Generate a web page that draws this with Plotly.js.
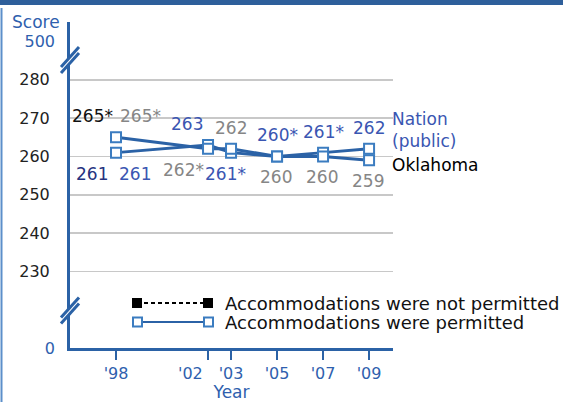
<!DOCTYPE html>
<html><head><meta charset="utf-8">
<script src="https://cdn.plot.ly/plotly-3.0.1.min.js"></script>
<style>html,body{margin:0;padding:0;background:#fff;overflow:hidden}#chart{width:563px;height:402px}</style>
</head><body><div id="chart"></div>
<script>
// ---- data ----
const years = [1998, 2002, 2003, 2005, 2007, 2009];
const yearTickText = ["'98", "'02", "'03", "'05", "'07", "'09"];
const nationScores = [261, 263, 261, 260, 261, 262];
const nationSig = [false, false, true, true, true, false];
const oklaScores = [265, 262, 262, 260, 260, 259];
const oklaSig = [true, true, false, false, false, false];
// accommodations not permitted (1998 only)
const notPermYears = [1998];
const nationNotPerm = [261];
const nationNotPermSig = [false];
const oklaNotPerm = [265];
const oklaNotPermSig = [true];
const scoreTicks = [230, 240, 250, 260, 270, 280];
const scoreTickText = ['230', '240', '250', '260', '270', '280'];
const breakTicks = [210, 290];
const breakTickText = ['0', '500'];
const seriesNames = ['Nation<br>(public)', 'Oklahoma'];
const legendLabels = ['Accommodations were not permitted', 'Accommodations were permitted'];

// ---- styles ----
const FONT = 'DejaVu Sans, Verdana, sans-serif';
const LINE = '#2b62a6';
const MARK = '#3b7cc0';
const BLUE_TXT = '#3a56b2';
const NAVY_TXT = '#26337f';
const GRAY_TXT = '#868686';
const AXIS_TXT = '#2f5fae';
const nationXShift = [19, -21, -6, 0, 0, 0];
const oklaXShift = [24, -25, 0, -1, -1, -1];
const LBL = 21;
// tick labels that sit off their tick (the '02 label is moved left in the original)
const tickLabelShift = [0, -18, 0, 0, 0, 0];
const xTickLabels = yearTickText.map((t, i) => tickLabelShift[i] === 0 ? t : '');

const traces = [
  {x: notPermYears, y: nationNotPerm, mode: 'markers', marker: {symbol: 'square', size: 9, color: '#000'}},
  {x: notPermYears, y: oklaNotPerm, mode: 'markers', marker: {symbol: 'square', size: 9, color: '#000'}},
  {x: years, y: nationScores, mode: 'lines', line: {color: LINE, width: 3}},
  {x: years, y: oklaScores, mode: 'lines', line: {color: LINE, width: 3}},
  {x: years, y: nationScores, mode: 'markers', marker: {symbol: 'square', size: 10, color: '#fff', line: {color: MARK, width: 2}}},
  {x: years, y: oklaScores, mode: 'markers', marker: {symbol: 'square', size: 10, color: '#fff', line: {color: MARK, width: 2}}},
  {x: [years[0]], y: [breakTicks[0]], yaxis: 'y2', mode: 'markers', marker: {opacity: 0}, hoverinfo: 'skip'}
];

const ann = [];
years.forEach((yr, i) => {
  const nAbove = nationScores[i] >= oklaScores[i];
  ann.push({x: yr, y: nationScores[i], text: nationScores[i] + (nationSig[i] ? '*' : ''),
    xshift: nationXShift[i], yshift: nAbove ? LBL : -LBL, showarrow: false,
    font: {family: FONT, size: 17, color: BLUE_TXT}});
  ann.push({x: yr, y: oklaScores[i], text: oklaScores[i] + (oklaSig[i] ? '*' : ''),
    xshift: oklaXShift[i], yshift: nAbove ? -LBL : LBL, showarrow: false,
    font: {family: FONT, size: 17, color: GRAY_TXT}});
  if (tickLabelShift[i] !== 0) {
    ann.push({x: yr, xref: 'x', yref: 'paper', y: 0, yanchor: 'middle', xshift: tickLabelShift[i], yshift: -25,
      text: yearTickText[i], showarrow: false, font: {family: FONT, size: 16, color: AXIS_TXT}});
  }
});
notPermYears.forEach((yr, i) => {
  const nAbove = nationNotPerm[i] >= oklaNotPerm[i];
  ann.push({x: yr, y: nationNotPerm[i], text: nationNotPerm[i] + (nationNotPermSig[i] ? '*' : ''),
    xshift: -24, yshift: nAbove ? LBL : -LBL, showarrow: false,
    font: {family: FONT, size: 17, color: NAVY_TXT}});
  ann.push({x: yr, y: oklaNotPerm[i], text: oklaNotPerm[i] + (oklaNotPermSig[i] ? '*' : ''),
    xshift: -24, yshift: nAbove ? -LBL : LBL, showarrow: false,
    font: {family: FONT, size: 17, color: '#111'}});
});
const last = years.length - 1;
ann.push({x: years[last], y: nationScores[last], text: seriesNames[0], xanchor: 'left', align: 'left',
  xshift: 21, yshift: 19, showarrow: false, font: {family: FONT, size: 17, color: BLUE_TXT}});
ann.push({x: years[last], y: oklaScores[last], text: seriesNames[1], xanchor: 'left', align: 'left',
  xshift: 21, yshift: -5, showarrow: false, font: {family: FONT, size: 17, color: '#000'}});
// y axis title
ann.push({xref: 'paper', yref: 'paper', x: 0, y: 1, xshift: -34, yshift: 0, text: 'Score', showarrow: false,
  xanchor: 'center', yanchor: 'middle', font: {family: FONT, size: 17, color: AXIS_TXT}});
// legend text
legendLabels.forEach((t, i) => {
  ann.push({xref: 'paper', yref: 'paper', x: 0, y: 0, xshift: 153, yshift: i === 0 ? 45 : 26,
    xanchor: 'left', yanchor: 'middle', text: t, showarrow: false,
    font: {family: FONT, size: 18, color: '#111'}});
});

const shapes = [];
// top band and left border
shapes.push({type: 'rect', xref: 'paper', yref: 'paper', xsizemode: 'pixel', ysizemode: 'pixel',
  xanchor: 0, yanchor: 1, x0: -72, x1: 500, y0: 17, y1: 24, fillcolor: '#2e5f9b', line: {width: 0}, layer: 'above'});
shapes.push({type: 'line', xref: 'paper', yref: 'paper', xsizemode: 'pixel', ysizemode: 'pixel',
  xanchor: 0, yanchor: 0, x0: -68.5, x1: -68.5, y0: -60, y1: 340, line: {color: '#5c8fca', width: 2}, layer: 'above'});
// axis breaks
[285.2, 219.8].forEach(v => {
  const base = {xref: 'paper', yref: 'y', xsizemode: 'pixel', ysizemode: 'pixel', xanchor: 0, yanchor: v, layer: 'above'};
  shapes.push(Object.assign({type: 'path', path: 'M-10,-14 L10,8 L10,14 L-10,-8 Z', fillcolor: '#fff', line: {width: 0}}, base));
  shapes.push(Object.assign({type: 'line', x0: -9, y0: -13, x1: 9, y1: 7, line: {color: LINE, width: 3}}, base));
  shapes.push(Object.assign({type: 'line', x0: -9, y0: -7, x1: 9, y1: 13, line: {color: LINE, width: 3}}, base));
});
// legend glyphs
const lg = {xref: 'paper', yref: 'paper', xsizemode: 'pixel', ysizemode: 'pixel', xanchor: 0, yanchor: 0, layer: 'above'};
shapes.push(Object.assign({type: 'line', x0: 67, x1: 138, y0: 45, y1: 45, line: {color: '#000', width: 2, dash: '4px,3px'}}, lg));
shapes.push(Object.assign({type: 'rect', x0: 62, x1: 72, y0: 40, y1: 50, fillcolor: '#000', line: {width: 0}}, lg));
shapes.push(Object.assign({type: 'rect', x0: 133, x1: 143, y0: 40, y1: 50, fillcolor: '#000', line: {width: 0}}, lg));
shapes.push(Object.assign({type: 'line', x0: 67, x1: 138, y0: 26, y1: 26, line: {color: LINE, width: 2}}, lg));
shapes.push(Object.assign({type: 'rect', x0: 63, x1: 72, y0: 21.5, y1: 30.5, fillcolor: '#fff', line: {color: MARK, width: 2}}, lg));
shapes.push(Object.assign({type: 'rect', x0: 134, x1: 143, y0: 21.5, y1: 30.5, fillcolor: '#fff', line: {color: MARK, width: 2}}, lg));

const layout = {
  width: 563, height: 402,
  margin: {l: 70, r: 170, t: 22, b: 54},
  paper_bgcolor: '#fff', plot_bgcolor: '#fff',
  showlegend: false,
  font: {family: FONT},
  xaxis: {range: [1996, 2010.04], tickvals: years, ticktext: xTickLabels, tickangle: 0, ticks: 'outside', ticklen: 9,
    tickwidth: 2, tickcolor: LINE, showline: true, linecolor: LINE, linewidth: 3, showgrid: false,
    zeroline: false, fixedrange: true, tickfont: {family: FONT, size: 16, color: AXIS_TXT},
    title: {text: 'Year', font: {family: FONT, size: 17, color: AXIS_TXT}, standoff: 0}},
  yaxis: {range: [210, 295.1], tickvals: scoreTicks, ticktext: scoreTickText, ticks: '', showline: true,
    linecolor: LINE, linewidth: 3, showgrid: true, gridcolor: '#c8c8c8', gridwidth: 1.5, zeroline: false,
    fixedrange: true, ticklabelstandoff: 14, tickfont: {family: FONT, size: 16, color: '#222'}},
  yaxis2: {range: [210, 295.1], overlaying: 'y', side: 'left', tickvals: breakTicks, ticktext: breakTickText,
    ticks: '', showline: false, showgrid: false, zeroline: false, fixedrange: true, ticklabelstandoff: 14,
    tickfont: {family: FONT, size: 16, color: AXIS_TXT}},
  annotations: ann,
  shapes: shapes
};
Plotly.newPlot('chart', traces, layout, {displayModeBar: false, staticPlot: true});
</script></body></html>
